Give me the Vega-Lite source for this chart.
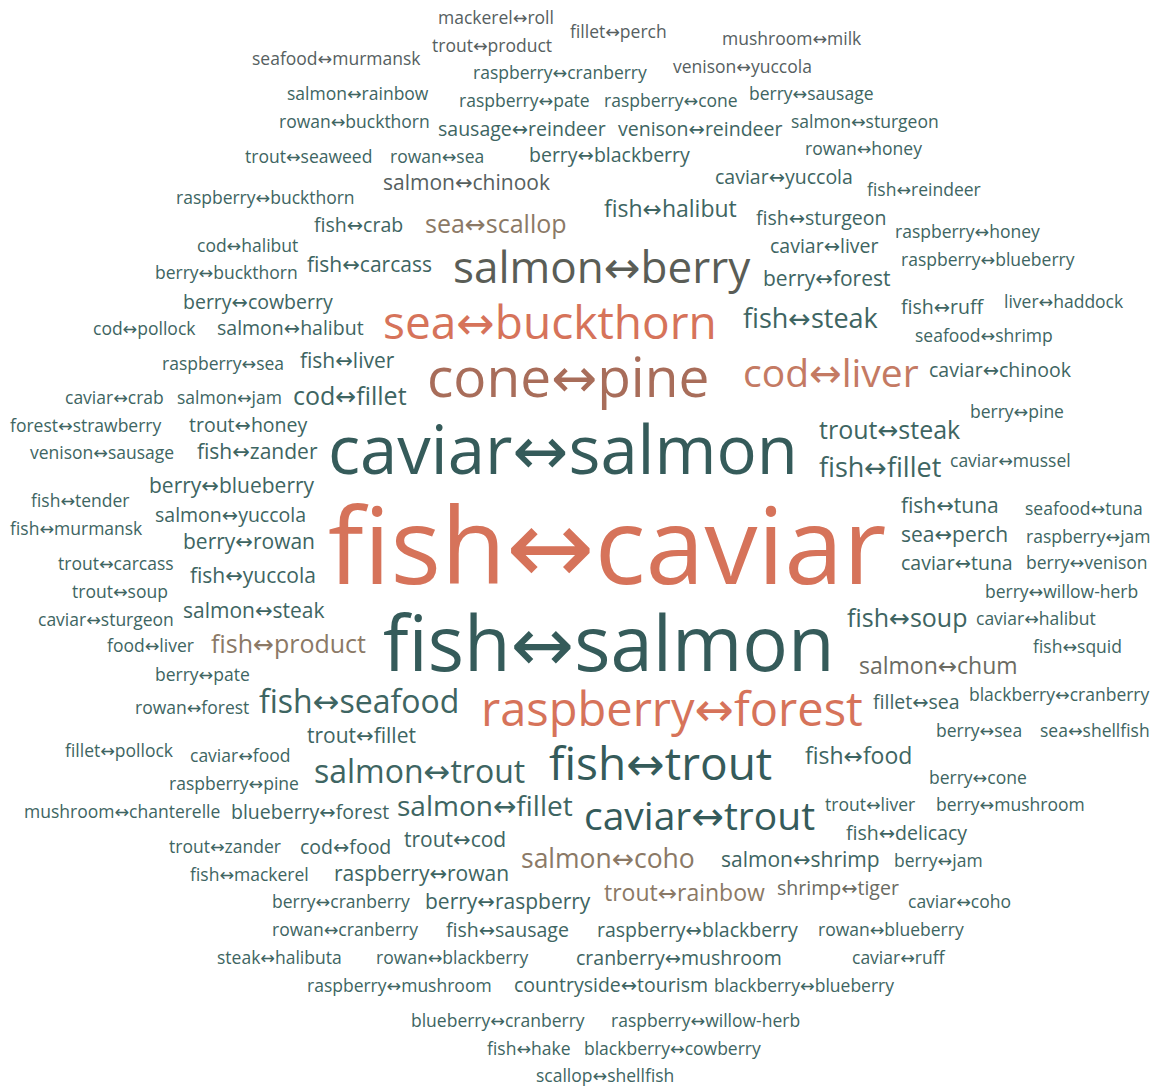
{
  "$schema": "https://vega.github.io/schema/vega-lite/v6.json",
  "width": 1164,
  "height": 1086,
  "autosize": {"type": "fit", "contains": "padding"},
  "padding": 0,
  "background": "#ffffff",
  "config": {"view": {"stroke": null}},
  "data": {
    "values": [
      {"t": "mackerel↔roll", "x": 438, "y": 19, "f": 17.5, "g": "gray"},
      {"t": "fillet↔perch", "x": 570, "y": 33, "f": 17.5, "g": "gray"},
      {"t": "mushroom↔milk", "x": 722, "y": 40, "f": 17.5, "g": "gray"},
      {"t": "trout↔product", "x": 432, "y": 47, "f": 17.5, "g": "gray"},
      {"t": "seafood↔murmansk", "x": 252, "y": 60, "f": 17.5, "g": "gray"},
      {"t": "raspberry↔cranberry", "x": 473, "y": 74, "f": 17.5, "g": "teal"},
      {"t": "venison↔yuccola", "x": 673, "y": 68, "f": 17.5, "g": "gray"},
      {"t": "salmon↔rainbow", "x": 287, "y": 95, "f": 17.5, "g": "teal"},
      {"t": "raspberry↔pate", "x": 459, "y": 102, "f": 17.5, "g": "teal"},
      {"t": "raspberry↔cone", "x": 604, "y": 102, "f": 17.5, "g": "teal"},
      {"t": "berry↔sausage", "x": 749, "y": 95, "f": 17.5, "g": "teal"},
      {"t": "rowan↔buckthorn", "x": 279, "y": 123, "f": 17.5, "g": "teal"},
      {"t": "sausage↔reindeer", "x": 438, "y": 130, "f": 19.5, "g": "teal"},
      {"t": "venison↔reindeer", "x": 618, "y": 130, "f": 19.5, "g": "teal"},
      {"t": "salmon↔sturgeon", "x": 791, "y": 123, "f": 17.5, "g": "teal"},
      {"t": "trout↔seaweed", "x": 245, "y": 158, "f": 17.5, "g": "teal"},
      {"t": "rowan↔sea", "x": 390, "y": 158, "f": 17.5, "g": "teal"},
      {"t": "berry↔blackberry", "x": 529, "y": 156, "f": 19.5, "g": "teal"},
      {"t": "rowan↔honey", "x": 805, "y": 150, "f": 17.5, "g": "teal"},
      {"t": "salmon↔chinook", "x": 383, "y": 184, "f": 21, "g": "gray"},
      {"t": "caviar↔yuccola", "x": 715, "y": 178, "f": 19.5, "g": "teal"},
      {"t": "raspberry↔buckthorn", "x": 176, "y": 199, "f": 17.5, "g": "teal"},
      {"t": "fish↔reindeer", "x": 867, "y": 191, "f": 17.5, "g": "teal"},
      {"t": "fish↔halibut", "x": 604, "y": 210, "f": 23, "g": "teal"},
      {"t": "fish↔sturgeon", "x": 756, "y": 219, "f": 19.5, "g": "teal"},
      {"t": "fish↔crab", "x": 314, "y": 226, "f": 19.5, "g": "teal"},
      {"t": "sea↔scallop", "x": 425, "y": 225, "f": 25, "g": "brown"},
      {"t": "raspberry↔honey", "x": 895, "y": 233, "f": 17.5, "g": "teal"},
      {"t": "cod↔halibut", "x": 197, "y": 247, "f": 17.5, "g": "teal"},
      {"t": "caviar↔liver", "x": 770, "y": 247, "f": 19.5, "g": "teal"},
      {"t": "raspberry↔blueberry", "x": 901, "y": 261, "f": 17.5, "g": "teal"},
      {"t": "berry↔buckthorn", "x": 155, "y": 274, "f": 17.5, "g": "teal"},
      {"t": "fish↔carcass", "x": 307, "y": 266, "f": 21, "g": "teal"},
      {"t": "salmon↔berry", "x": 453, "y": 270, "f": 44, "g": "olive"},
      {"t": "berry↔forest", "x": 763, "y": 280, "f": 21, "g": "teal"},
      {"t": "fish↔ruff", "x": 901, "y": 308, "f": 19.5, "g": "teal"},
      {"t": "liver↔haddock", "x": 1004, "y": 303, "f": 17.5, "g": "teal"},
      {"t": "berry↔cowberry", "x": 183, "y": 303, "f": 19.5, "g": "teal"},
      {"t": "sea↔buckthorn", "x": 383, "y": 325, "f": 46, "g": "hot"},
      {"t": "fish↔steak", "x": 743, "y": 320, "f": 27, "g": "teal"},
      {"t": "cod↔pollock", "x": 93, "y": 330, "f": 17.5, "g": "teal"},
      {"t": "salmon↔halibut", "x": 217, "y": 329, "f": 19.5, "g": "teal"},
      {"t": "seafood↔shrimp", "x": 915, "y": 337, "f": 17.5, "g": "teal"},
      {"t": "raspberry↔sea", "x": 162, "y": 365, "f": 17.5, "g": "teal"},
      {"t": "fish↔liver", "x": 300, "y": 362, "f": 21, "g": "teal"},
      {"t": "cone↔pine", "x": 427, "y": 380, "f": 55, "g": "rust"},
      {"t": "cod↔liver", "x": 743, "y": 375, "f": 39, "g": "warm"},
      {"t": "caviar↔chinook", "x": 929, "y": 371, "f": 19.5, "g": "teal"},
      {"t": "caviar↔crab", "x": 65, "y": 399, "f": 17.5, "g": "teal"},
      {"t": "salmon↔jam", "x": 177, "y": 399, "f": 17.5, "g": "teal"},
      {"t": "cod↔fillet", "x": 293, "y": 397, "f": 25, "g": "teal"},
      {"t": "forest↔strawberry", "x": 10, "y": 427, "f": 17.5, "g": "teal"},
      {"t": "trout↔honey", "x": 189, "y": 426, "f": 19.5, "g": "teal"},
      {"t": "berry↔pine", "x": 970, "y": 413, "f": 17.5, "g": "teal"},
      {"t": "trout↔steak", "x": 819, "y": 431, "f": 25, "g": "teal"},
      {"t": "caviar↔salmon", "x": 328, "y": 454, "f": 67, "g": "deep"},
      {"t": "venison↔sausage", "x": 30, "y": 454, "f": 17.5, "g": "teal"},
      {"t": "fish↔zander", "x": 197, "y": 453, "f": 21, "g": "teal"},
      {"t": "fish↔fillet", "x": 819, "y": 469, "f": 27, "g": "teal"},
      {"t": "caviar↔mussel", "x": 950, "y": 462, "f": 17.5, "g": "teal"},
      {"t": "berry↔blueberry", "x": 149, "y": 487, "f": 21, "g": "teal"},
      {"t": "fish↔tender", "x": 31, "y": 502, "f": 17.5, "g": "teal"},
      {"t": "fish↔caviar", "x": 328, "y": 552, "f": 106, "g": "hot"},
      {"t": "fish↔tuna", "x": 901, "y": 507, "f": 21, "g": "teal"},
      {"t": "seafood↔tuna", "x": 1025, "y": 510, "f": 17.5, "g": "teal"},
      {"t": "fish↔murmansk", "x": 10, "y": 530, "f": 17.5, "g": "teal"},
      {"t": "salmon↔yuccola", "x": 155, "y": 516, "f": 19.5, "g": "teal"},
      {"t": "sea↔perch", "x": 901, "y": 536, "f": 21, "g": "teal"},
      {"t": "raspberry↔jam", "x": 1026, "y": 538, "f": 17.5, "g": "teal"},
      {"t": "berry↔rowan", "x": 183, "y": 543, "f": 21, "g": "teal"},
      {"t": "caviar↔tuna", "x": 901, "y": 564, "f": 19.5, "g": "teal"},
      {"t": "berry↔venison", "x": 1026, "y": 564, "f": 17.5, "g": "teal"},
      {"t": "trout↔carcass", "x": 58, "y": 565, "f": 17.5, "g": "teal"},
      {"t": "fish↔yuccola", "x": 190, "y": 577, "f": 21, "g": "teal"},
      {"t": "trout↔soup", "x": 72, "y": 593, "f": 17.5, "g": "teal"},
      {"t": "berry↔willow-herb", "x": 985, "y": 593, "f": 17.5, "g": "teal"},
      {"t": "caviar↔sturgeon", "x": 38, "y": 621, "f": 17.5, "g": "teal"},
      {"t": "salmon↔steak", "x": 183, "y": 612, "f": 21, "g": "teal"},
      {"t": "fish↔soup", "x": 847, "y": 619, "f": 25, "g": "teal"},
      {"t": "caviar↔halibut", "x": 976, "y": 620, "f": 17.5, "g": "teal"},
      {"t": "fish↔salmon", "x": 383, "y": 648, "f": 76, "g": "deep"},
      {"t": "food↔liver", "x": 107, "y": 647, "f": 17.5, "g": "teal"},
      {"t": "fish↔product", "x": 211, "y": 645, "f": 25, "g": "brown"},
      {"t": "fish↔squid", "x": 1033, "y": 648, "f": 17.5, "g": "teal"},
      {"t": "berry↔pate", "x": 155, "y": 676, "f": 17.5, "g": "teal"},
      {"t": "salmon↔chum", "x": 859, "y": 667, "f": 23, "g": "taupe"},
      {"t": "fish↔seafood", "x": 259, "y": 703, "f": 32, "g": "teal"},
      {"t": "rowan↔forest", "x": 135, "y": 709, "f": 17.5, "g": "teal"},
      {"t": "raspberry↔forest", "x": 481, "y": 712, "f": 47, "g": "hot"},
      {"t": "fillet↔sea", "x": 873, "y": 703, "f": 19.5, "g": "teal"},
      {"t": "blackberry↔cranberry", "x": 969, "y": 696, "f": 17.5, "g": "teal"},
      {"t": "berry↔sea", "x": 936, "y": 732, "f": 17.5, "g": "teal"},
      {"t": "sea↔shellfish", "x": 1040, "y": 732, "f": 17.5, "g": "teal"},
      {"t": "fillet↔pollock", "x": 65, "y": 752, "f": 17.5, "g": "teal"},
      {"t": "trout↔fillet", "x": 307, "y": 737, "f": 21, "g": "teal"},
      {"t": "caviar↔food", "x": 190, "y": 757, "f": 17.5, "g": "teal"},
      {"t": "fish↔trout", "x": 549, "y": 766, "f": 46, "g": "deep"},
      {"t": "fish↔food", "x": 805, "y": 757, "f": 23, "g": "teal"},
      {"t": "salmon↔trout", "x": 314, "y": 773, "f": 32, "g": "teal"},
      {"t": "raspberry↔pine", "x": 169, "y": 785, "f": 17.5, "g": "teal"},
      {"t": "berry↔cone", "x": 929, "y": 779, "f": 17.5, "g": "teal"},
      {"t": "mushroom↔chanterelle", "x": 24, "y": 813, "f": 17.5, "g": "teal"},
      {"t": "blueberry↔forest", "x": 231, "y": 813, "f": 19.5, "g": "teal"},
      {"t": "salmon↔fillet", "x": 397, "y": 808, "f": 28, "g": "teal"},
      {"t": "caviar↔trout", "x": 584, "y": 818, "f": 39, "g": "deep"},
      {"t": "trout↔liver", "x": 825, "y": 806, "f": 17.5, "g": "teal"},
      {"t": "berry↔mushroom", "x": 936, "y": 806, "f": 17.5, "g": "teal"},
      {"t": "fish↔delicacy", "x": 846, "y": 834, "f": 19.5, "g": "teal"},
      {"t": "trout↔zander", "x": 169, "y": 848, "f": 17.5, "g": "teal"},
      {"t": "cod↔food", "x": 300, "y": 848, "f": 19.5, "g": "teal"},
      {"t": "trout↔cod", "x": 404, "y": 841, "f": 21, "g": "teal"},
      {"t": "salmon↔coho", "x": 521, "y": 860, "f": 26.5, "g": "brown"},
      {"t": "salmon↔shrimp", "x": 721, "y": 861, "f": 21, "g": "teal"},
      {"t": "berry↔jam", "x": 894, "y": 862, "f": 17.5, "g": "teal"},
      {"t": "fish↔mackerel", "x": 190, "y": 876, "f": 17.5, "g": "teal"},
      {"t": "raspberry↔rowan", "x": 334, "y": 875, "f": 21, "g": "teal"},
      {"t": "trout↔rainbow", "x": 604, "y": 894, "f": 23, "g": "brown"},
      {"t": "shrimp↔tiger", "x": 777, "y": 889, "f": 19.5, "g": "taupe"},
      {"t": "caviar↔coho", "x": 908, "y": 903, "f": 17.5, "g": "teal"},
      {"t": "berry↔cranberry", "x": 272, "y": 903, "f": 17.5, "g": "teal"},
      {"t": "berry↔raspberry", "x": 425, "y": 903, "f": 21, "g": "teal"},
      {"t": "rowan↔cranberry", "x": 272, "y": 931, "f": 17.5, "g": "teal"},
      {"t": "fish↔sausage", "x": 446, "y": 931, "f": 19.5, "g": "teal"},
      {"t": "raspberry↔blackberry", "x": 597, "y": 931, "f": 19.5, "g": "teal"},
      {"t": "rowan↔blueberry", "x": 818, "y": 931, "f": 17.5, "g": "teal"},
      {"t": "steak↔halibuta", "x": 217, "y": 959, "f": 17.5, "g": "teal"},
      {"t": "rowan↔blackberry", "x": 376, "y": 959, "f": 17.5, "g": "teal"},
      {"t": "cranberry↔mushroom", "x": 576, "y": 959, "f": 19.5, "g": "teal"},
      {"t": "caviar↔ruff", "x": 852, "y": 959, "f": 17.5, "g": "teal"},
      {"t": "raspberry↔mushroom", "x": 307, "y": 987, "f": 17.5, "g": "teal"},
      {"t": "countryside↔tourism", "x": 514, "y": 986, "f": 19.5, "g": "teal"},
      {"t": "blackberry↔blueberry", "x": 714, "y": 987, "f": 17.5, "g": "teal"},
      {"t": "blueberry↔cranberry", "x": 411, "y": 1022, "f": 17.5, "g": "teal"},
      {"t": "raspberry↔willow-herb", "x": 611, "y": 1022, "f": 17.5, "g": "teal"},
      {"t": "fish↔hake", "x": 487, "y": 1050, "f": 17.5, "g": "teal"},
      {"t": "blackberry↔cowberry", "x": 584, "y": 1050, "f": 17.5, "g": "teal"},
      {"t": "scallop↔shellfish", "x": 536, "y": 1077, "f": 17.5, "g": "teal"}
    ]
  },
  "mark": {"type": "text", "align": "left", "baseline": "middle", "font": "Open Sans, Noto Sans, DejaVu Sans"},
  "encoding": {
    "x": {"field": "x", "type": "quantitative", "scale": {"domain": [0, 1164], "nice": false, "zero": false}, "axis": null},
    "y": {"field": "y", "type": "quantitative", "scale": {"domain": [0, 1086], "nice": false, "zero": false, "reverse": true}, "axis": null},
    "size": {"field": "f", "type": "quantitative", "scale": {"type": "linear", "domain": [0, 106], "range": [0, 106]}, "legend": null},
    "color": {
      "field": "g", "type": "nominal", "legend": null,
      "scale": {
        "domain": ["hot", "warm", "rust", "deep", "olive", "brown", "taupe", "teal", "gray"],
        "range": ["#d6735a", "#c47a63", "#a86d5a", "#355b5a", "#5a5d56", "#8b7966", "#6b6b62", "#3e6562", "#56605f"]
      }
    },
    "text": {"field": "t", "type": "nominal"}
  }
}
